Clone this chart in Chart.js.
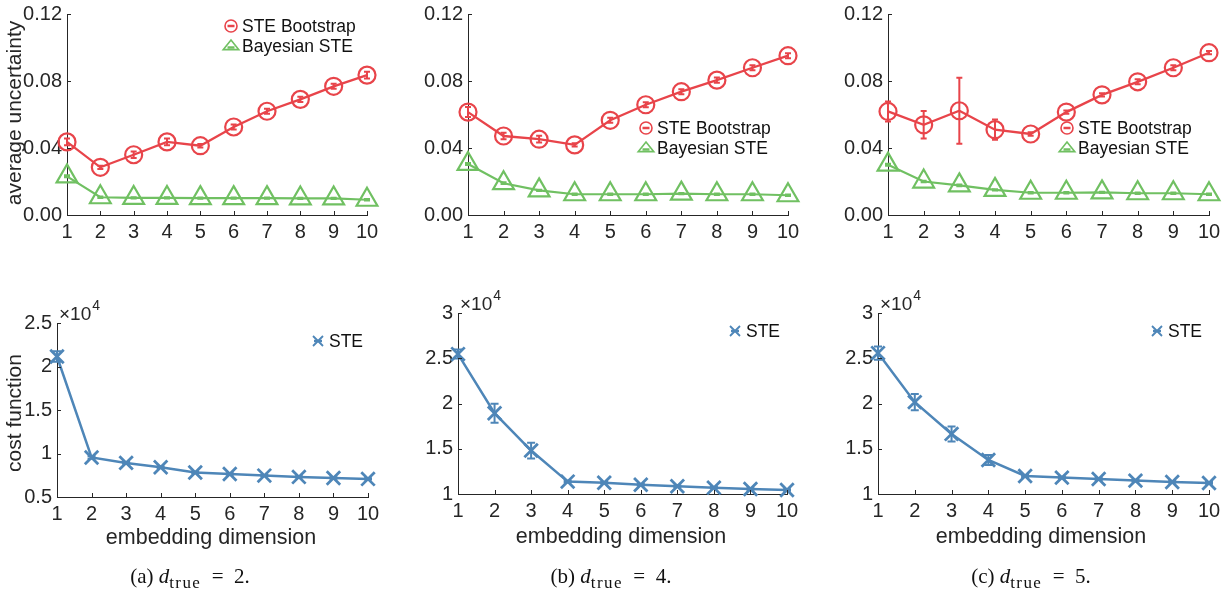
<!DOCTYPE html>
<html>
<head>
<meta charset="utf-8">
<script src="https://cdn.jsdelivr.net/npm/chart.js@4.4.1/dist/chart.umd.min.js"></script>
<style>
  html, body { margin: 0; padding: 0; background: #fff; }
  #wrap { position: relative; width: 1231px; height: 596px; overflow: hidden; }
  #wrap canvas { position: absolute; left: 0; top: 0; }
  .cap { position: absolute; top: 564px; transform: translateX(-50%); white-space: nowrap;
         font-family: "Liberation Serif", "DejaVu Serif", serif; font-size: 21px; color: #111; }
  .cap i { font-style: italic; }
  .cap sub { font-size: 17px; letter-spacing: 1.4px; vertical-align: -5px; line-height: 0; }
</style>
</head>
<body>
<div id="wrap">
  <canvas id="c1" width="1231" height="596"></canvas>
  <canvas id="c2" width="1231" height="596"></canvas>
  <canvas id="c3" width="1231" height="596"></canvas>
  <canvas id="c4" width="1231" height="596"></canvas>
  <canvas id="c5" width="1231" height="596"></canvas>
  <canvas id="c6" width="1231" height="596"></canvas>
  <div class="cap" style="left:190px">(a) <i>d</i><sub>true</sub>&ensp;=&ensp;2.</div>
  <div class="cap" style="left:611px">(b) <i>d</i><sub>true</sub>&ensp;=&ensp;4.</div>
  <div class="cap" style="left:1031px">(c) <i>d</i><sub>true</sub>&ensp;=&ensp;5.</div>
</div>
<script>
// ---------------- data ----------------
const dims = [1, 2, 3, 4, 5, 6, 7, 8, 9, 10];
const xTicks = [1, 2, 3, 4, 5, 6, 7, 8, 9, 10];

const uncTicks = [0, 0.04, 0.08, 0.12];
const uncTickLabels = ["0.00", "0.04", "0.08", "0.12"];

// (a) d_true = 2
const bootA    = [0.0437, 0.0285, 0.0360, 0.0437, 0.0414, 0.0526, 0.0620, 0.0691, 0.0769, 0.0836];
const bootAErr = [0.0020, 0.0010, 0.0020, 0.0020, 0.0010, 0.0015, 0.0015, 0.0015, 0.0015, 0.0020];
const bayesA    = [0.0231, 0.0106, 0.0102, 0.0102, 0.0101, 0.0101, 0.0101, 0.0099, 0.0099, 0.0091];
const bayesAErr = [0.0006, 0.0004, 0.0004, 0.0004, 0.0004, 0.0004, 0.0004, 0.0004, 0.0004, 0.0004];

// (b) d_true = 4
const bootB    = [0.0615, 0.0472, 0.0453, 0.0419, 0.0566, 0.0659, 0.0737, 0.0806, 0.0880, 0.0952];
const bootBErr = [0.0030, 0.0020, 0.0020, 0.0010, 0.0015, 0.0015, 0.0015, 0.0015, 0.0015, 0.0015];
const bayesB    = [0.0305, 0.0190, 0.0147, 0.0124, 0.0124, 0.0124, 0.0128, 0.0124, 0.0124, 0.0118];
const bayesBErr = [0.0006, 0.0005, 0.0004, 0.0004, 0.0004, 0.0004, 0.0004, 0.0004, 0.0004, 0.0004];

// (c) d_true = 5
const bootC    = [0.0619, 0.0539, 0.0623, 0.0510, 0.0484, 0.0615, 0.0718, 0.0796, 0.0880, 0.0970];
const bootCErr = [0.0060, 0.0082, 0.0197, 0.0060, 0.0010, 0.0010, 0.0010, 0.0015, 0.0015, 0.0010];
const bayesC    = [0.0301, 0.0200, 0.0177, 0.0150, 0.0133, 0.0133, 0.0135, 0.0130, 0.0130, 0.0124];
const bayesCErr = [0.0006, 0.0005, 0.0005, 0.0004, 0.0004, 0.0004, 0.0004, 0.0004, 0.0004, 0.0004];

// cost function (raw values, axis shown as x10^4)
const costA    = [21150, 9540, 8920, 8420, 7810, 7650, 7460, 7310, 7190, 7080];
const costAErr = [600, 150, 100, 100, 80, 80, 80, 80, 80, 80];
const costB    = [25460, 18930, 14800, 11370, 11250, 11030, 10850, 10700, 10550, 10440];
const costBErr = [500, 1050, 870, 100, 80, 80, 80, 80, 80, 80];
const costC    = [25570, 20150, 16640, 13760, 11990, 11810, 11660, 11480, 11330, 11220];
const costCErr = [740, 900, 830, 550, 100, 100, 100, 100, 100, 100];

const costTicksA = [5000, 10000, 15000, 20000, 25000];
const costTickLabelsA = ["0.5", "1", "1.5", "2", "2.5"];
const costTicksBC = [10000, 15000, 20000, 25000, 30000];
const costTickLabelsBC = ["1", "1.5", "2", "2.5", "3"];

const seriesNames = { boot: "STE Bootstrap", bayes: "Bayesian STE", ste: "STE" };

// ---------------- styling ----------------
const RED = "rgb(232,68,74)";
const GREEN = "rgb(112,192,98)";
const BLUE = "rgb(78,134,184)";
const AXIS = "#262626";
const FONT = "'Liberation Sans', Arial, Helvetica, sans-serif";

Chart.defaults.font.family = FONT;
Chart.defaults.font.size = 20;
Chart.defaults.color = AXIS;

const CW = 1231, CH = 596, YW = 50, XH = 30;

function pts(vals) { return dims.map((d, i) => ({ x: d, y: vals[i] })); }

function drawMarker(ctx, style, color, x, y, r) {
  ctx.save();
  ctx.strokeStyle = color; ctx.lineWidth = 1.6;
  ctx.beginPath();
  if (style === 'circle') {
    ctx.arc(x, y, r, 0, Math.PI * 2);
    ctx.stroke();
    ctx.lineWidth = 2.5; ctx.beginPath();
    ctx.moveTo(x - 3.5, y); ctx.lineTo(x + 3.5, y); ctx.stroke();
  } else if (style === 'triangle') {
    const h = r * 1.6, w = r * 1.3;
    ctx.moveTo(x, y - h * 0.62); ctx.lineTo(x + w, y + h * 0.38); ctx.lineTo(x - w, y + h * 0.38); ctx.closePath();
    ctx.stroke();
    ctx.lineWidth = 2.5; ctx.beginPath();
    ctx.moveTo(x - 3.5, y + 1.5); ctx.lineTo(x + 3.5, y + 1.5); ctx.stroke();
  } else if (style === 'cross') {
    ctx.lineWidth = 1.8;
    ctx.moveTo(x - r, y - r); ctx.lineTo(x + r, y + r);
    ctx.moveTo(x - r, y + r); ctx.lineTo(x + r, y - r);
    ctx.stroke();
    ctx.lineWidth = 2.5; ctx.beginPath();
    ctx.moveTo(x - 4, y); ctx.lineTo(x + 4, y); ctx.stroke();
  }
  ctx.restore();
}

const deco = {
  id: 'deco',
  afterDatasetsDraw(chart) {
    const ctx = chart.ctx, xs = chart.scales.x, ys = chart.scales.y;
    chart.data.datasets.forEach(ds => {
      if (!ds.errors) return;
      ctx.save();
      ctx.strokeStyle = ds.borderColor;
      ctx.lineWidth = ds.errWidth || 2;
      ds.data.forEach((p, j) => {
        const e = ds.errors[j];
        const x = xs.getPixelForValue(p.x);
        const y1 = ys.getPixelForValue(p.y - e), y2 = ys.getPixelForValue(p.y + e);
        const c = ds.capHalf || 3.5;
        ctx.beginPath();
        ctx.moveTo(x, y1); ctx.lineTo(x, y2);
        ctx.moveTo(x - c, y1); ctx.lineTo(x + c, y1);
        ctx.moveTo(x - c, y2); ctx.lineTo(x + c, y2);
        ctx.stroke();
      });
      ctx.restore();
    });
  },
  afterDraw(chart, args, opts) {
    const ctx = chart.ctx, xs = chart.scales.x, ys = chart.scales.y, ca = chart.chartArea;
    ctx.save();
    // inward ticks
    ctx.strokeStyle = AXIS; ctx.lineWidth = 1;
    ctx.beginPath();
    xs.ticks.forEach(t => {
      const x = Math.round(xs.getPixelForValue(t.value)) + 0.5;
      ctx.moveTo(x, ca.bottom); ctx.lineTo(x, ca.bottom - 4);
    });
    ys.ticks.forEach(t => {
      const y = Math.round(ys.getPixelForValue(t.value)) + 0.5;
      ctx.moveTo(ca.left, y); ctx.lineTo(ca.left + 4, y);
    });
    ctx.stroke();
    ctx.fillStyle = AXIS;
    // axis titles
    if (opts.yTitle) {
      ctx.save();
      ctx.translate(opts.yTitle.x, opts.yTitle.y);
      ctx.rotate(-Math.PI / 2);
      ctx.font = "21px " + FONT;
      ctx.textAlign = 'center'; ctx.textBaseline = 'middle';
      ctx.fillText(opts.yTitle.text, 0, 0);
      ctx.restore();
    }
    if (opts.xTitle) {
      ctx.font = "21.5px " + FONT;
      ctx.textAlign = 'center'; ctx.textBaseline = 'middle';
      ctx.fillText(opts.xTitle.text, opts.xTitle.x, opts.xTitle.y);
    }
    // exponent label
    if (opts.exponent) {
      ctx.textAlign = 'left'; ctx.textBaseline = 'middle';
      ctx.font = "19px " + FONT;
      const x0 = ca.left + 2, y0 = ca.top - 8;
      ctx.fillText("\u00d710", x0, y0);
      const w = ctx.measureText("\u00d710").width;
      ctx.font = "14px " + FONT;
      ctx.fillText(opts.exponent, x0 + w + 1, y0 - 9);
    }
    // legend
    (opts.legend || []).forEach(it => {
      drawMarker(ctx, it.style, it.color, it.x, it.y, it.style === 'cross' ? 5 : 6);
      ctx.fillStyle = "#111";
      ctx.font = "17.5px " + FONT;
      ctx.textAlign = 'left'; ctx.textBaseline = 'middle';
      ctx.fillText(it.label, it.x + 11, it.y + 1);
    });
    ctx.restore();
  }
};

function makeChart(id, area, datasets, yCfg, deco_opts) {
  const [L, T, R, B] = area;
  const zeroPad = s => { s.paddingTop = 0; s.paddingBottom = 0; s.paddingLeft = 0; s.paddingRight = 0; };
  return new Chart(document.getElementById(id), {
    type: 'line',
    data: { datasets },
    options: {
      responsive: false,
      animation: false,
      devicePixelRatio: 1,
      events: [],
      layout: { padding: { left: L - YW, top: T, right: CW - R, bottom: CH - B - XH } },
      plugins: { legend: { display: false }, tooltip: { enabled: false }, deco: deco_opts },
      scales: {
        x: {
          type: 'linear', min: 1, max: 10,
          afterBuildTicks: s => { s.ticks = xTicks.map(v => ({ value: v })); },
          afterFit: s => { s.height = XH; zeroPad(s); },
          grid: { display: true, drawOnChartArea: false, drawTicks: false },
          border: { display: true, color: AXIS, width: 1 },
          ticks: { padding: 5, color: AXIS, font: { size: 20 }, maxRotation: 0, autoSkip: false, callback: v => String(v) }
        },
        y: {
          type: 'linear', min: yCfg.min, max: yCfg.max,
          afterBuildTicks: s => { s.ticks = yCfg.ticks.map(v => ({ value: v })); },
          afterFit: s => { s.width = YW; zeroPad(s); },
          grid: { display: true, drawOnChartArea: false, drawTicks: false },
          border: { display: true, color: AXIS, width: 1 },
          ticks: { padding: 5, color: AXIS, font: { size: 20 }, autoSkip: false,
                   callback: (v, i) => yCfg.labels[i] }
        }
      }
    },
    plugins: [deco]
  });
}

function bootDs(vals, errs) {
  return { label: seriesNames.boot, data: pts(vals), errors: errs, borderColor: RED, borderWidth: 2.3,
           pointStyle: 'circle', pointRadius: 8.5, pointBorderWidth: 2.2, pointBorderColor: RED,
           pointBackgroundColor: 'rgba(0,0,0,0)', tension: 0, clip: false, capHalf: 3 };
}
function bayesDs(vals, errs) {
  return { label: seriesNames.bayes, data: pts(vals), errors: errs, borderColor: GREEN, borderWidth: 2.2,
           pointStyle: 'triangle', pointRadius: 12, pointBorderWidth: 2.2, pointBorderColor: GREEN,
           pointBackgroundColor: 'rgba(0,0,0,0)', tension: 0, clip: false, capHalf: 3 };
}
function steDs(vals, errs) {
  return { label: seriesNames.ste, data: pts(vals), errors: errs, borderColor: BLUE, borderWidth: 2.5,
           pointStyle: 'crossRot', pointRadius: 9.5, pointBorderWidth: 2.8, pointBorderColor: BLUE,
           pointBackgroundColor: BLUE, tension: 0, clip: false, capHalf: 4 };
}

const uncY = { min: 0, max: 0.12, ticks: uncTicks, labels: uncTickLabels };
const costYA = { min: 5000, max: 25000, ticks: costTicksA, labels: costTickLabelsA };
const costYBC = { min: 10000, max: 30000, ticks: costTicksBC, labels: costTickLabelsBC };

// top row
makeChart('c1', [67, 7, 367, 215], [bootDs(bootA, bootAErr), bayesDs(bayesA, bayesAErr)], uncY, {
  yTitle: { text: "average uncertainty", x: 15, y: 113 },
  legend: [
    { label: seriesNames.boot, style: 'circle', color: RED, x: 231, y: 26 },
    { label: seriesNames.bayes, style: 'triangle', color: GREEN, x: 231, y: 46 }
  ]
});
makeChart('c2', [468, 5, 788, 215], [bootDs(bootB, bootBErr), bayesDs(bayesB, bayesBErr)], uncY, {
  legend: [
    { label: seriesNames.boot, style: 'circle', color: RED, x: 646, y: 128 },
    { label: seriesNames.bayes, style: 'triangle', color: GREEN, x: 646, y: 148 }
  ]
});
makeChart('c3', [888, 5, 1209, 215], [bootDs(bootC, bootCErr), bayesDs(bayesC, bayesCErr)], uncY, {
  legend: [
    { label: seriesNames.boot, style: 'circle', color: RED, x: 1067, y: 128 },
    { label: seriesNames.bayes, style: 'triangle', color: GREEN, x: 1067, y: 148 }
  ]
});

// bottom row
makeChart('c4', [57, 323, 368, 497], [steDs(costA, costAErr)], costYA, {
  yTitle: { text: "cost function", x: 15, y: 413 },
  xTitle: { text: "embedding dimension", x: 211, y: 538 },
  exponent: "4",
  legend: [{ label: seriesNames.ste, style: 'cross', color: BLUE, x: 318, y: 341 }]
});
makeChart('c5', [458, 313, 787, 494], [steDs(costB, costBErr)], costYBC, {
  xTitle: { text: "embedding dimension", x: 621, y: 537 },
  exponent: "4",
  legend: [{ label: seriesNames.ste, style: 'cross', color: BLUE, x: 735, y: 331 }]
});
makeChart('c6', [878, 313, 1209, 494], [steDs(costC, costCErr)], costYBC, {
  xTitle: { text: "embedding dimension", x: 1041, y: 537 },
  exponent: "4",
  legend: [{ label: seriesNames.ste, style: 'cross', color: BLUE, x: 1157, y: 331 }]
});
</script>
</body>
</html>
